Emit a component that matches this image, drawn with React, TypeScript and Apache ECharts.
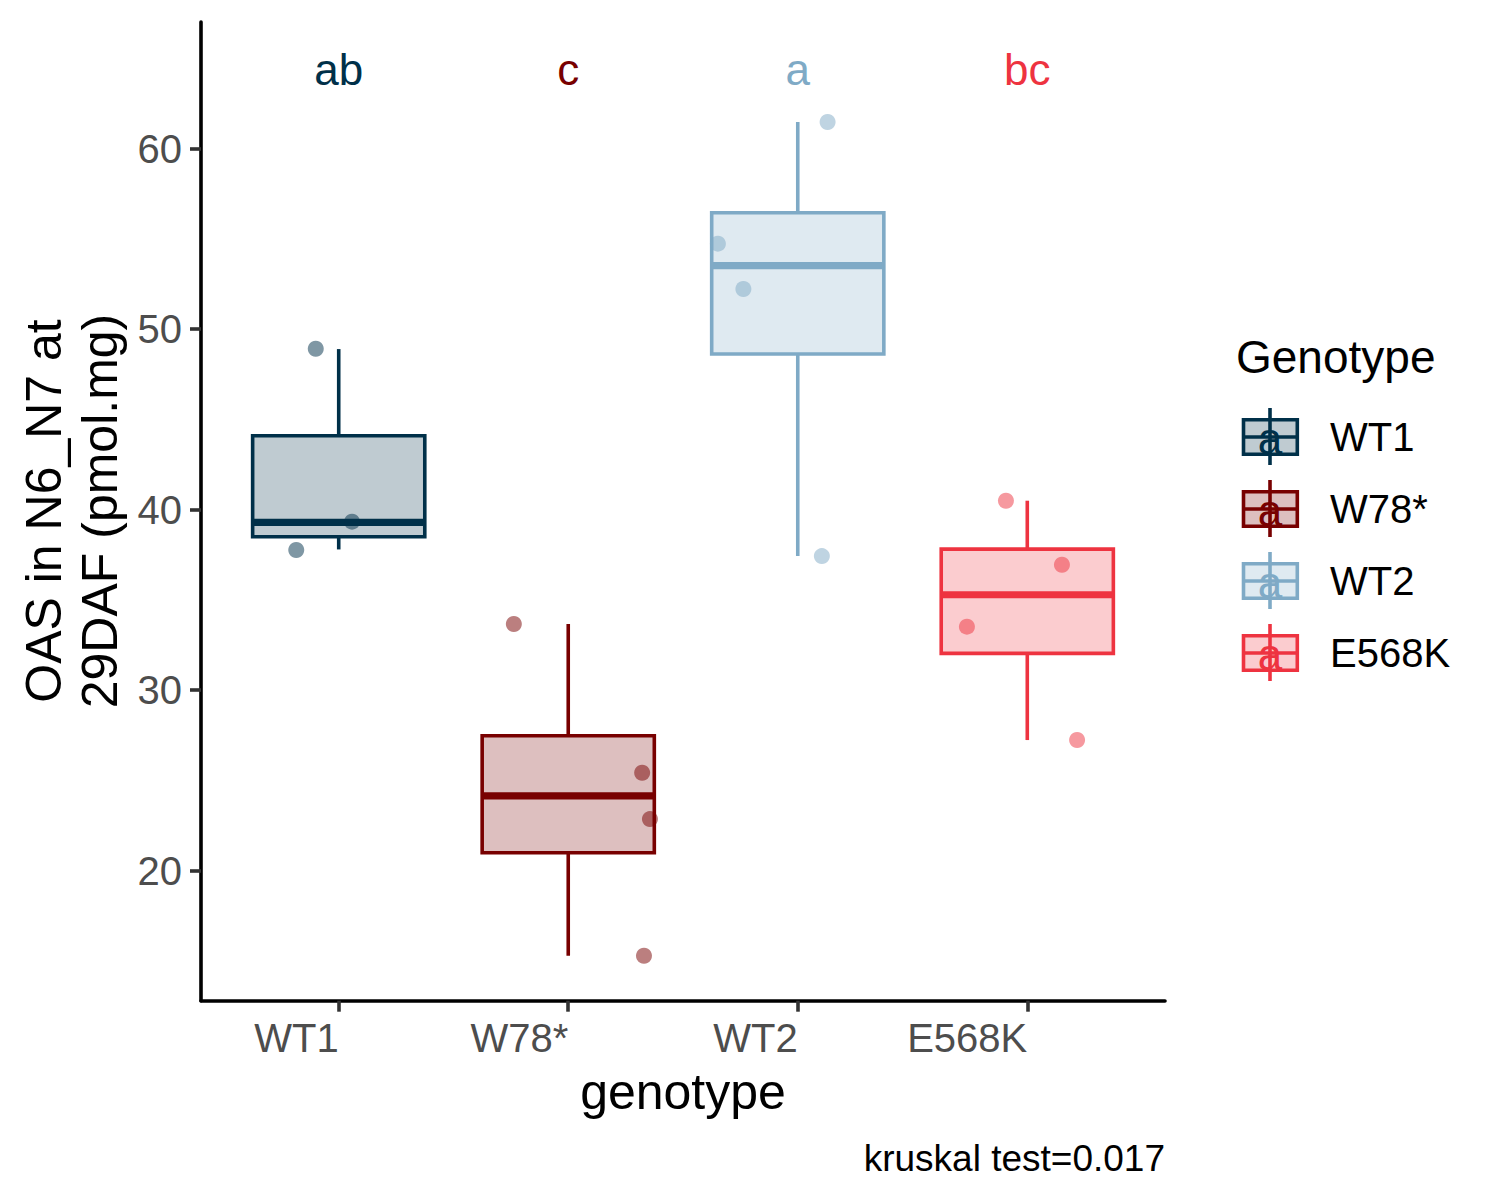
import React, { useEffect, useRef } from "react";
import * as echarts from "echarts";

const categories = ["WT1", "W78*", "WT2", "E568K"];
const colors = ["#003049", "#780000", "#7FAAC6", "#EE3340"];

const boxLow = [37.8, 15.29, 37.43, 27.24];
const boxQ1 = [38.5, 21.0, 48.63, 32.04];
const boxMedian = [39.3, 24.15, 53.52, 35.29];
const boxQ3 = [44.1, 27.48, 56.45, 37.82];
const boxHigh = [48.9, 33.67, 61.48, 40.5];

const pointGroup = [0, 0, 0, 1, 1, 1, 1, 2, 2, 2, 2, 3, 3, 3, 3];
const pointX = [-0.1, 0.058, -0.185, 0.763, 1.322, 1.356, 1.33, 2.13, 1.652, 1.763, 2.105, 2.907, 3.151, 2.737, 3.217];
const pointY = [48.92, 39.34, 37.77, 33.67, 25.43, 22.86, 15.29, 61.48, 54.74, 52.23, 37.43, 40.5, 36.95, 33.52, 27.24];

const letters = ["ab", "c", "a", "bc"];
const letterY = 64.41;

const yTicks = [20, 30, 40, 50, 60];
const xTicks = [0, 1, 2, 3];

const FONT = "'Liberation Sans', Arial, sans-serif";

function rgba(hex: string, a: number) {
  const n = parseInt(hex.slice(1), 16);
  return `rgba(${(n >> 16) & 255},${(n >> 8) & 255},${n & 255},${a})`;
}

export default function App() {
  const ref = useRef<HTMLDivElement>(null);

  useEffect(() => {
    document.body.style.margin = "0";
    const chart = echarts.init(ref.current!, null, { renderer: "svg" });

    const boxData = categories.map((_, i) => [i, boxLow[i], boxQ1[i], boxMedian[i], boxQ3[i], boxHigh[i]]);

    const pointSeries = categories.map((name, g) => ({
      type: "scatter",
      name,
      z: 3,
      symbolSize: 16,
      itemStyle: { color: rgba(colors[g], 0.5), opacity: 1 },
      emphasis: { disabled: true },
      data: pointX.map((x, k) => ({ x, y: pointY[k], g: pointGroup[k] })).filter((p) => p.g === g).map((p) => [p.x, p.y]),
    }));

    const legendChildren: any[] = [];
    legendChildren.push({
      type: "text",
      x: 1236,
      y: 357,
      style: { text: "Genotype", fontSize: 46, fontFamily: FONT, fill: "#000", textAlign: "left", textVerticalAlign: "middle" },
    });
    categories.forEach((name, i) => {
      const yc = 437 + 72 * i;
      const c = colors[i];
      legendChildren.push(
        { type: "line", shape: { x1: 1270, y1: yc - 29, x2: 1270, y2: yc + 28 }, style: { stroke: c, lineWidth: 3.6 } },
        { type: "rect", shape: { x: 1243.5, y: yc - 17.2, width: 53.8, height: 34.4 }, style: { fill: rgba(c, 0.25), stroke: c, lineWidth: 3.6 } },
        { type: "line", shape: { x1: 1243.5, y1: yc, x2: 1297.3, y2: yc }, style: { stroke: c, lineWidth: 3.6 } },
        { type: "text", x: 1270, y: yc + 1.5, style: { text: "a", fontSize: 44, fontFamily: FONT, fill: c, textAlign: "center", textVerticalAlign: "middle" } },
        { type: "text", x: 1330, y: yc, style: { text: name, fontSize: 40, fontFamily: FONT, fill: "#000", textAlign: "left", textVerticalAlign: "middle" } }
      );
    });

    const option: any = {
      animation: false,
      backgroundColor: "#ffffff",
      grid: { left: 201, top: 22, right: 335, bottom: 199.3, containLabel: false, outerBoundsMode: "none" },
      xAxis: {
        type: "value",
        min: -0.6,
        max: 3.6,
        axisLine: { show: true, onZero: false, lineStyle: { color: "#000", width: 3.6 } },
        axisTick: { show: true, length: 11, customValues: xTicks, lineStyle: { color: "#333333", width: 3.6 } },
        axisLabel: {
          show: true,
          customValues: xTicks,
          formatter: (v: number) => categories[Math.round(v)],
          align: "right",
          margin: 17,
          fontSize: 40,
          fontFamily: FONT,
          color: "#4D4D4D",
        },
        splitLine: { show: false },
      },
      yAxis: {
        type: "value",
        min: 12.8,
        max: 67.02,
        axisLine: { show: true, onZero: false, lineStyle: { color: "#000", width: 3.6 } },
        axisTick: { show: true, length: 11, customValues: yTicks, lineStyle: { color: "#333333", width: 3.6 } },
        axisLabel: { show: true, customValues: yTicks, margin: 19, fontSize: 40, fontFamily: FONT, color: "#4D4D4D" },
        splitLine: { show: false },
      },
      series: [
        {
          type: "custom",
          z: 2,
          encode: { x: 0, y: [1, 2, 3, 4, 5] },
          data: boxData,
          renderItem: (params: any, api: any) => {
            const x = api.value(0);
            const low = api.coord([x, api.value(1)]);
            const q1 = api.coord([x, api.value(2)]);
            const med = api.coord([x, api.value(3)]);
            const q3 = api.coord([x, api.value(4)]);
            const high = api.coord([x, api.value(5)]);
            const half = api.size([0.75, 0])[0] / 2;
            const c = colors[params.dataIndex];
            return {
              type: "group",
              children: [
                { type: "line", shape: { x1: high[0], y1: high[1], x2: q3[0], y2: q3[1] }, style: { stroke: c, lineWidth: 3.6 } },
                { type: "line", shape: { x1: low[0], y1: low[1], x2: q1[0], y2: q1[1] }, style: { stroke: c, lineWidth: 3.6 } },
                {
                  type: "rect",
                  shape: { x: q3[0] - half, y: q3[1], width: half * 2, height: q1[1] - q3[1] },
                  style: { fill: rgba(c, 0.25), stroke: c, lineWidth: 3.6 },
                },
                { type: "line", shape: { x1: med[0] - half, y1: med[1], x2: med[0] + half, y2: med[1] }, style: { stroke: c, lineWidth: 7.2 } },
              ],
            };
          },
        },
        ...pointSeries,
        {
          type: "scatter",
          z: 4,
          symbolSize: 1,
          itemStyle: { color: "rgba(0,0,0,0)", opacity: 1 },
          emphasis: { disabled: true },
          data: letters.map((t, i) => ({
            value: [i, letterY],
            label: { color: colors[i] },
          })),
          label: {
            show: true,
            position: "inside",
            formatter: (p: any) => letters[p.dataIndex],
            fontSize: 44,
            fontFamily: FONT,
          },
        },
      ],
      graphic: [
        {
          type: "text",
          x: 72,
          y: 511,
          rotation: Math.PI / 2,
          style: {
            text: "OAS in N6_N7 at\n29DAF (pmol.mg)",
            fontSize: 50,
            lineHeight: 56,
            fontFamily: FONT,
            fill: "#000",
            textAlign: "center",
            textVerticalAlign: "middle",
          },
        },
        {
          type: "text",
          x: 683,
          y: 1092,
          style: { text: "genotype", fontSize: 50, fontFamily: FONT, fill: "#000", textAlign: "center", textVerticalAlign: "middle" },
        },
        {
          type: "text",
          x: 1165,
          y: 1158,
          style: { text: "kruskal test=0.017", fontSize: 37, fontFamily: FONT, fill: "#000", textAlign: "right", textVerticalAlign: "middle" },
        },
        ...legendChildren,
      ],
    };

    chart.setOption(option);
    return () => chart.dispose();
  }, []);

  return <div ref={ref} style={{ width: 1500, height: 1200, background: "#fff" }} />;
}
